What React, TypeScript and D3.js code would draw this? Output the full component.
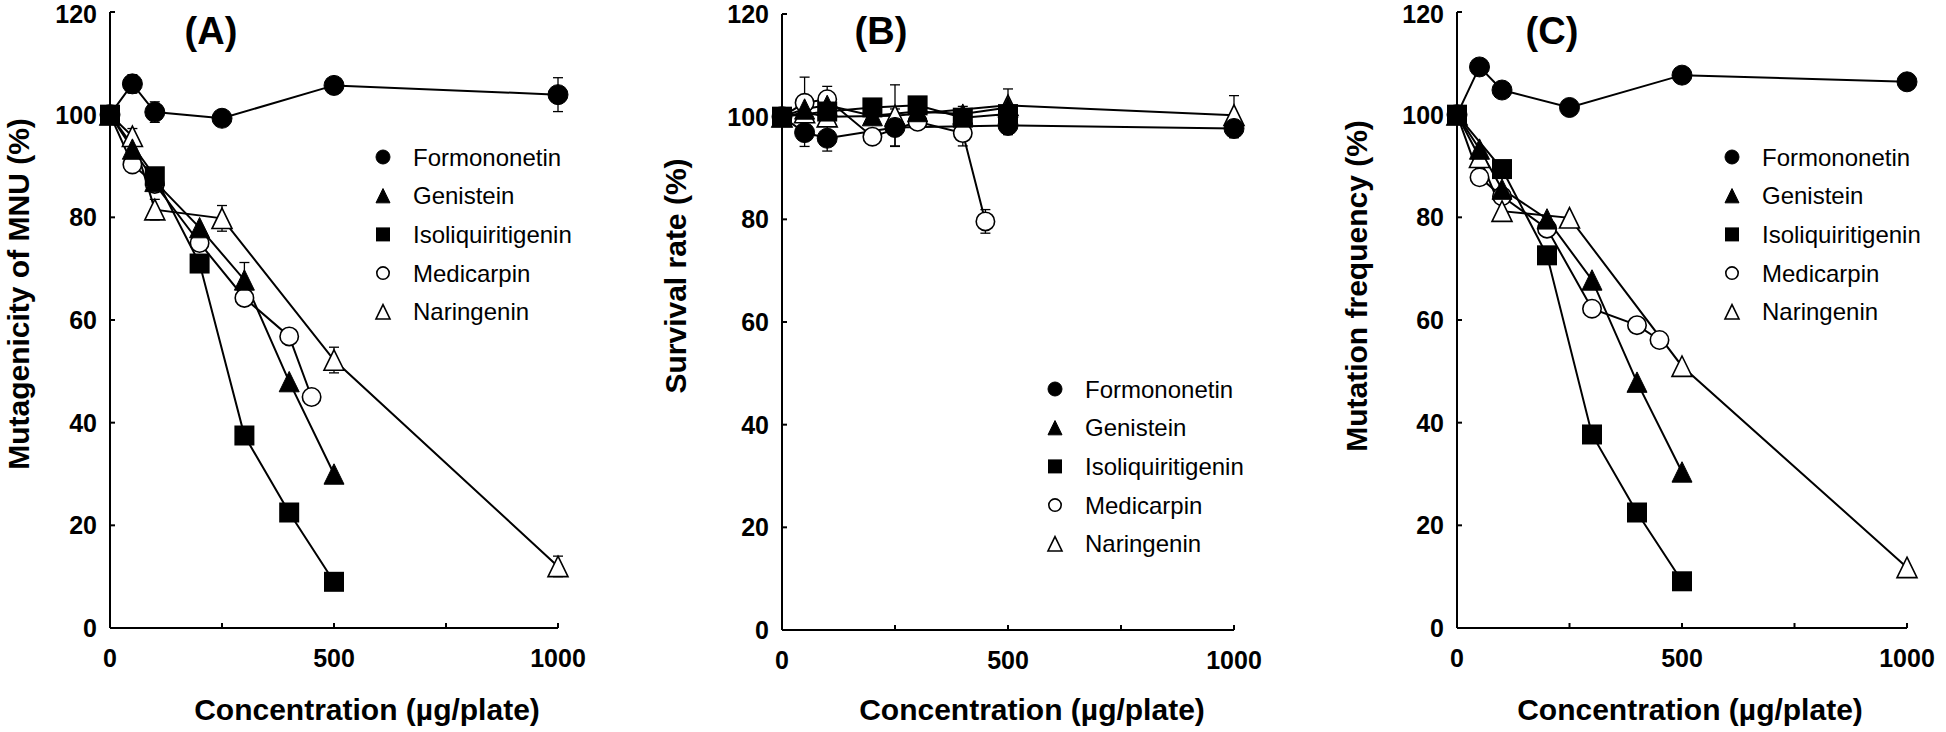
import React from 'react';
import * as d3 from 'd3';

// ---------- data ----------
const compounds = ['Formononetin', 'Genistein', 'Isoliquiritigenin', 'Medicarpin', 'Naringenin'];
const xTicks = [0, 250, 500, 750, 1000];
const xTickLabels = [0, 500, 1000];
const yTicks = [0, 20, 40, 60, 80, 100, 120];

const formononetinDoses = [0, 50, 100, 250, 500, 1000];
const genisteinDoses = [0, 50, 100, 200, 300, 400, 500];
const isoliquiritigeninDoses = [0, 100, 200, 300, 400, 500];
const medicarpinDoses = [0, 50, 100, 200, 300, 400, 450];
const naringeninDoses = [0, 50, 100, 250, 500, 1000];

// (A) Mutagenicity of MNU (%)
const mutFormononetin = [100, 106, 100.5, 99.3, 105.7, 103.9];
const mutFormononetinErr = [0, 1.8, 2, 1.3, 0, 3.3];
const mutGenistein = [100, 93.3, 87, 78, 67.8, 48, 30];
const mutGenisteinErr = [0, 0, 0, 0, 3.4, 0, 0];
const mutIsoliquiritigenin = [100, 88, 71, 37.5, 22.5, 9];
const mutIsoliquiritigeninErr = [0, 0, 0, 0, 0, 0];
const mutMedicarpin = [100, 90.3, 86.5, 75, 64.3, 56.8, 45];
const mutMedicarpinErr = [0, 0, 0, 0, 0, 0, 0];
const mutNaringenin = [100, 95.8, 81.5, 79.8, 52.2, 12];
const mutNaringeninErr = [0, 1.5, 2, 2.5, 2.5, 2];

// (B) Survival rate (%)
const survFormononetin = [100, 96.9, 95.8, 97.9, 98.3, 97.7];
const survFormononetinErr = [0, 2.7, 2.5, 3.6, 1.8, 1.8];
const survGenistein = [100, 101.5, 102.2, 100.2, 101, 100.5, 101.8];
const survGenisteinErr = [0, 0, 2, 0, 0, 0, 3.6];
const survIsoliquiritigenin = [100, 101, 101.8, 102.2, 99.8, 100.5];
const survIsoliquiritigeninErr = [0, 0, 0, 0, 2.2, 0];
const survMedicarpin = [100, 102.7, 103.4, 96.1, 99, 96.8, 79.6];
const survMedicarpinErr = [0, 5, 2.5, 0, 0, 2.5, 2.3];
const survNaringenin = [100, 100.8, 100, 100.2, 102.2, 100.3];
const survNaringeninErr = [0, 0, 0, 6, 0, 3.8];

// (C) Mutation frequency (%)
const freqFormononetin = [100, 109.3, 104.8, 101.4, 107.7, 106.4];
const freqGenistein = [100, 93.3, 85.5, 79.7, 67.8, 47.9, 30.4];
const freqIsoliquiritigenin = [100, 89.4, 72.6, 37.7, 22.5, 9.1];
const freqMedicarpin = [100, 87.8, 84.1, 77.8, 62.2, 59, 56.1];
const freqNaringenin = [100, 91.7, 81.2, 79.9, 51, 11.8];

// ---------- styles ----------
const FONT = "'Liberation Sans', Arial, Helvetica, sans-serif";
const shapes = ['circleFilled', 'triangleFilled', 'square', 'circleOpen', 'triangleOpen'];
const drawOrder = [3, 4, 0, 1, 2];

type Series = { doses: number[]; values: number[]; errors?: number[] };

const panels = [
  {
    label: '(A)', labelX: 211, yTitle: 'Mutagenicity of MNU (%)', yTitleX: 18, yTitleY: 294,
    xTitleX: 367, left: 110, right: 558, top: 12, bottom: 628,
    legendX: 383, legendY: 157,
    series: [
      { doses: formononetinDoses, values: mutFormononetin, errors: mutFormononetinErr },
      { doses: genisteinDoses, values: mutGenistein, errors: mutGenisteinErr },
      { doses: isoliquiritigeninDoses, values: mutIsoliquiritigenin, errors: mutIsoliquiritigeninErr },
      { doses: medicarpinDoses, values: mutMedicarpin, errors: mutMedicarpinErr },
      { doses: naringeninDoses, values: mutNaringenin, errors: mutNaringeninErr },
    ] as Series[],
  },
  {
    label: '(B)', labelX: 881, yTitle: 'Survival rate (%)', yTitleX: 675, yTitleY: 276,
    xTitleX: 1032, left: 782, right: 1234, top: 14, bottom: 630,
    legendX: 1055, legendY: 389,
    series: [
      { doses: formononetinDoses, values: survFormononetin, errors: survFormononetinErr },
      { doses: genisteinDoses, values: survGenistein, errors: survGenisteinErr },
      { doses: isoliquiritigeninDoses, values: survIsoliquiritigenin, errors: survIsoliquiritigeninErr },
      { doses: medicarpinDoses, values: survMedicarpin, errors: survMedicarpinErr },
      { doses: naringeninDoses, values: survNaringenin, errors: survNaringeninErr },
    ] as Series[],
  },
  {
    label: '(C)', labelX: 1552, yTitle: 'Mutation frequency (%)', yTitleX: 1356, yTitleY: 286,
    xTitleX: 1690, left: 1457, right: 1907, top: 12, bottom: 628,
    legendX: 1732, legendY: 157,
    series: [
      { doses: formononetinDoses, values: freqFormononetin },
      { doses: genisteinDoses, values: freqGenistein },
      { doses: isoliquiritigeninDoses, values: freqIsoliquiritigenin },
      { doses: medicarpinDoses, values: freqMedicarpin },
      { doses: naringeninDoses, values: freqNaringenin },
    ] as Series[],
  },
];

function Marker({ shape, cx, cy, size }: { shape: string; cx: number; cy: number; size: number }) {
  const open = shape.endsWith('Open');
  const fill = open ? '#fff' : '#000';
  const sw = open ? 1.6 : 1;
  if (shape.startsWith('circle')) {
    return <circle cx={cx} cy={cy} r={size / 2 - (open ? 0.8 : 0)} fill={fill} stroke="#000" strokeWidth={sw} />;
  }
  if (shape === 'square') {
    return <rect x={cx - size / 2} y={cy - size / 2} width={size} height={size} fill="#000" />;
  }
  const w = size, h = size * 1.02;
  const d = `M${cx},${cy - h / 2}L${cx + w / 2},${cy + h / 2}L${cx - w / 2},${cy + h / 2}Z`;
  return <path d={d} fill={fill} stroke="#000" strokeWidth={sw} strokeLinejoin="miter" />;
}

function Panel({ p }: { p: (typeof panels)[number] }) {
  const x = d3.scaleLinear().domain([0, 1000]).range([p.left, p.right]);
  const y = d3.scaleLinear().domain([0, 120]).range([p.bottom, p.top]);
  const line = d3.line<[number, number]>().x((d) => x(d[0])).y((d) => y(d[1]));
  const msize = 20;
  return (
    <g>
      {/* lines */}
      {p.series.map((s, i) => (
        <path key={'l' + i} d={line(s.doses.map((d, j) => [d, s.values[j]]))!} fill="none" stroke="#000" strokeWidth={2} />
      ))}
      {/* error bars */}
      {p.series.map((s, i) =>
        (s.errors || []).map((e, j) =>
          e > 0 ? (
            <g key={'e' + i + '-' + j} stroke="#000" strokeWidth={1.3}>
              <line x1={x(s.doses[j])} x2={x(s.doses[j])} y1={y(s.values[j] - e)} y2={y(s.values[j] + e)} />
              <line x1={x(s.doses[j]) - 5} x2={x(s.doses[j]) + 5} y1={y(s.values[j] + e)} y2={y(s.values[j] + e)} />
              <line x1={x(s.doses[j]) - 5} x2={x(s.doses[j]) + 5} y1={y(s.values[j] - e)} y2={y(s.values[j] - e)} />
            </g>
          ) : null
        )
      )}
      {/* markers */}
      {drawOrder.map((i) =>
        p.series[i].doses.map((d, j) => (
          <Marker key={'m' + i + '-' + j} shape={shapes[i]} cx={x(d)} cy={y(p.series[i].values[j])} size={msize} />
        ))
      )}
      {/* axes */}
      <line x1={p.left} x2={p.left} y1={p.bottom} y2={y(120)} stroke="#000" strokeWidth={2} />
      <line x1={p.left} x2={x(1000)} y1={p.bottom} y2={p.bottom} stroke="#000" strokeWidth={2} />
      {yTicks.map((t) => (
        <g key={'yt' + t}>
          <line x1={p.left} x2={p.left + 5} y1={y(t)} y2={y(t)} stroke="#000" strokeWidth={2} />
          <text x={p.left - 13} y={Math.max(y(t) + 9, 23)} textAnchor="end" fontFamily={FONT} fontWeight="bold" fontSize={25}>
            {t}
          </text>
        </g>
      ))}
      {xTicks.map((t) => (
        <line key={'xt' + t} x1={x(t)} x2={x(t)} y1={p.bottom} y2={p.bottom - 5} stroke="#000" strokeWidth={2} />
      ))}
      {xTickLabels.map((t) => (
        <text key={'xl' + t} x={x(t)} y={p.bottom + 39} textAnchor="middle" fontFamily={FONT} fontWeight="bold" fontSize={25}>
          {t}
        </text>
      ))}
      {/* titles */}
      <text x={p.xTitleX} y={720} textAnchor="middle" fontFamily={FONT} fontWeight="bold" fontSize={30}>
        Concentration (µg/plate)
      </text>
      <text
        transform={`translate(${p.yTitleX},${p.yTitleY}) rotate(-90)`}
        textAnchor="middle"
        dy="0.36em"
        fontFamily={FONT}
        fontWeight="bold"
        fontSize={30}
      >
        {p.yTitle}
      </text>
      <text x={p.labelX} y={44} textAnchor="middle" fontFamily={FONT} fontWeight="bold" fontSize={38}>
        {p.label}
      </text>
      {/* legend */}
      {compounds.map((c, i) => (
        <g key={'lg' + i}>
          <Marker shape={shapes[i]} cx={p.legendX} cy={p.legendY + i * 38.7} size={14} />
          <text x={p.legendX + 30} y={p.legendY + i * 38.7} dy="0.36em" fontFamily={FONT} fontSize={24}>
            {c}
          </text>
        </g>
      ))}
    </g>
  );
}

export default function App() {
  return (
    <svg
      width={1946}
      height={732}
      viewBox="0 0 1946 732"
      style={{ position: 'absolute', left: 0, top: 0, background: '#fff' }}
    >
      <rect width={1946} height={732} fill="#fff" />
      {panels.map((p) => (
        <Panel key={p.label} p={p} />
      ))}
    </svg>
  );
}
